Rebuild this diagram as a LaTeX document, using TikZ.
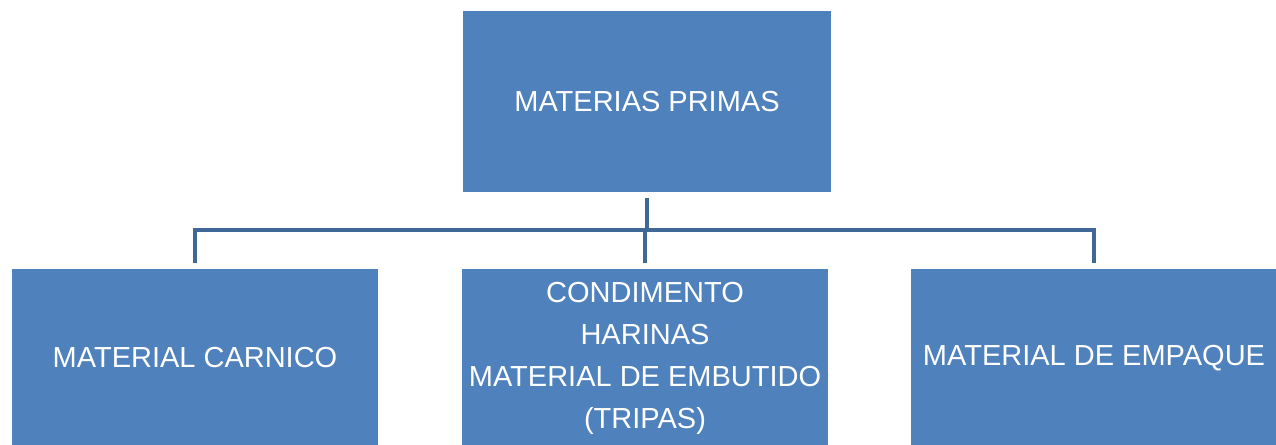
\documentclass[tikz,border=0pt]{standalone}
\usepackage{fontspec}
\setmainfont{Liberation Sans}
\definecolor{boxblue}{HTML}{4F81BD}
\definecolor{linkblue}{HTML}{3F6896}
\tikzset{
  box/.style={fill=boxblue,draw=none,text=white,align=center,inner sep=0pt,
    minimum width=7.32cm,minimum height=3.56cm,
    font=\fontsize{16.5}{23.9}\selectfont},
  link/.style={draw=linkblue,line width=2.8pt,line join=miter,
    shorten <=0.12cm,shorten >=0.12cm}
}
\begin{document}
\begin{tikzpicture}
  \clip (0,0) rectangle (25.52,8.90);

  %Top
  \node[box,minimum width=7.36cm,minimum height=3.62cm] (primas) at (12.94,6.87) {MATERIAS PRIMAS};

  %Bottom
  \node[box] (carnico) at (3.90,1.74) {MATERIAL CARNICO};
  \node[box] (condimento) at (12.90,1.74) {CONDIMENTO\\HARINAS\\MATERIAL DE EMBUTIDO\\(TRIPAS)};
  \node[box] (empaque) at (21.88,1.74) {MATERIAL DE EMPAQUE};

  %Links
  \coordinate (bar) at (12.94,4.30);
  \draw[link] (primas.south) -- (primas.south |- bar) -| (carnico.north);
  \draw[link] (primas.south) -- (primas.south |- bar) -| (condimento.north);
  \draw[link] (primas.south) -- (primas.south |- bar) -| (empaque.north);

\end{tikzpicture}
\end{document}
